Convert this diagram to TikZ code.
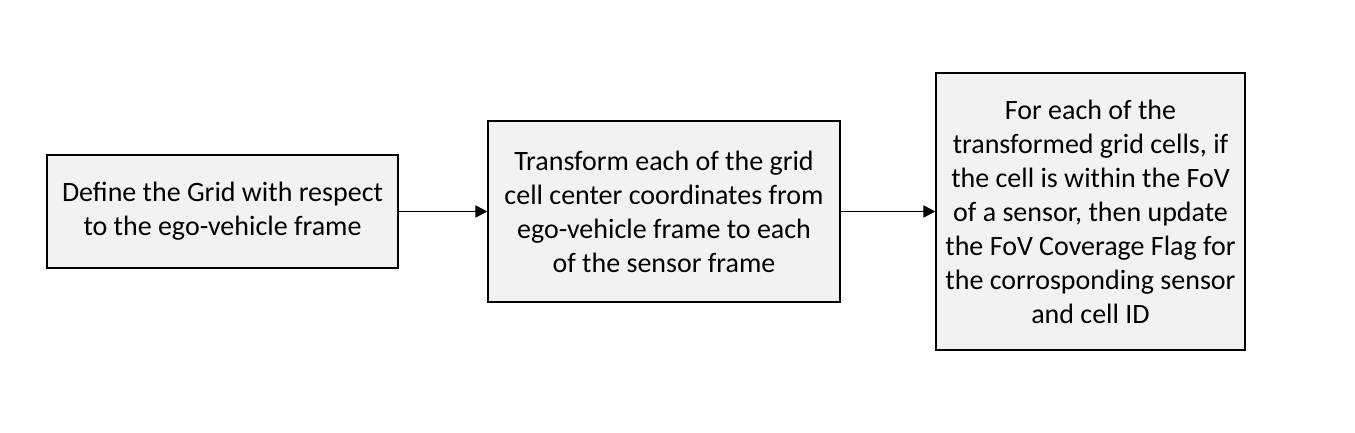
\documentclass[tikz,border=0pt]{standalone}
\usepackage{fontspec}
\setmainfont{Carlito}
\usetikzlibrary{arrows.meta}
\tikzset{
  box/.style={draw=black, line width=1.2pt, fill=boxgray, inner sep=0pt, align=center,
    font=\fontsize{28}{34}\selectfont, text=black},
  flow/.style={line width=1.8pt, -{Triangle[length=12pt,width=12pt]}}
}
\definecolor{boxgray}{HTML}{F2F2F2}
\begin{document}
\begin{tikzpicture}[x=1pt,y=-1pt]
\useasboundingbox (0,0) rectangle (1355,433);
\node[box, minimum width=351pt, minimum height=113pt] (a) at (222.5,211.5)
  {Define the Grid with respect\\to the ego-vehicle frame};
\node[box, minimum width=352pt, minimum height=181pt] (b) at (664,211.5)
  {Transform each of the grid\\cell center coordinates from\\ego-vehicle frame to each\\of the sensor frame};
\node[box, minimum width=309pt, minimum height=277pt] (c) at (1090.5,211.5)
  {For each of the\\transformed grid cells, if\\the cell is within the FoV\\of a sensor, then update\\the FoV Coverage Flag for\\the corrosponding sensor\\and cell ID};
\draw[flow] (a.east) -- (b.west);
\draw[flow] (b.east) -- (c.west);
\end{tikzpicture}
\end{document}
